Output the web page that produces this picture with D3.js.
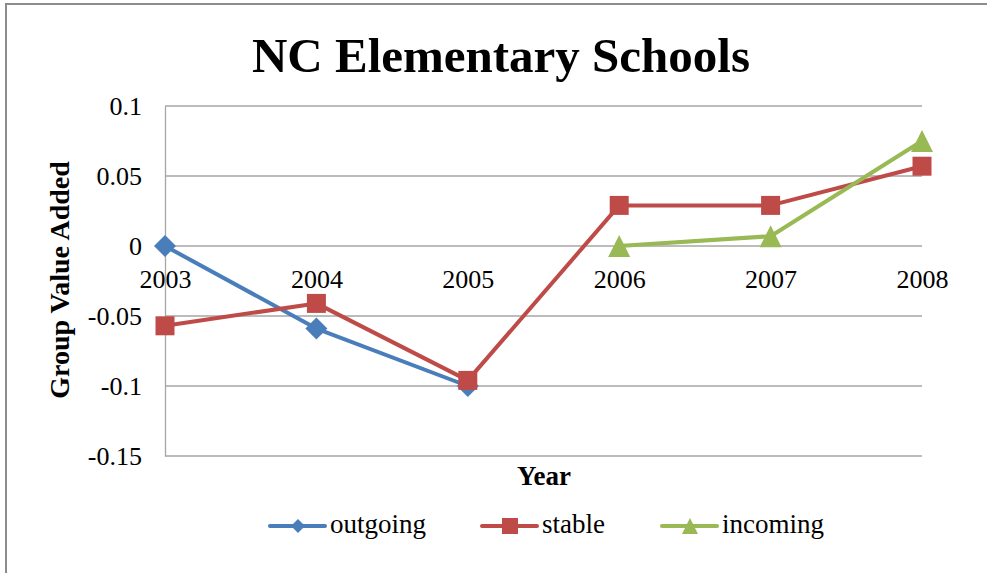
<!DOCTYPE html>
<html>
<head>
<meta charset="utf-8">
<script src="https://cdn.jsdelivr.net/npm/d3@7"></script>
<style>
  body { margin: 0; background: #fff; }
  text { font-family: "Liberation Serif", "Times New Roman", serif; }
</style>
</head>
<body>
<svg id="chart" width="987" height="573"></svg>
<script>
const years = ["2003", "2004", "2005", "2006", "2007", "2008"];
const outgoing = [0, -0.059, -0.1, null, null, null];
const stable = [-0.057, -0.041, -0.096, 0.029, 0.029, 0.057];
const incoming = [null, null, null, 0, 0.007, 0.075];
const yTicks = [0.1, 0.05, 0, -0.05, -0.1, -0.15];

// excel style marker shapes, r = half of the box
const diamond = {draw(ctx, size) {
  const r = Math.sqrt(size) / 2;
  ctx.moveTo(0, -r); ctx.lineTo(r, 0); ctx.lineTo(0, r); ctx.lineTo(-r, 0); ctx.closePath();
}};
const square = {draw(ctx, size) {
  const r = Math.sqrt(size) / 2;
  ctx.rect(-r, -r, 2 * r, 2 * r);
}};
const triangle = {draw(ctx, size) {
  const r = Math.sqrt(size) / 2;
  ctx.moveTo(0, -r); ctx.lineTo(r, r); ctx.lineTo(-r, r); ctx.closePath();
}};

const series = [
  {name: "outgoing", values: outgoing, color: "#4a7ebb", shape: diamond, size: 22, legendSize: 14},
  {name: "stable", values: stable, color: "#be4b48", shape: square, size: 19, legendSize: 16},
  {name: "incoming", values: incoming, color: "#98b954", shape: triangle, size: 22, legendSize: 16}
];

const margin = {top: 106, right: 65, bottom: 117, left: 165};
const width = 987;
const height = 573;

const svg = d3.select("#chart");

// outer frame
svg.append("line")
    .attr("x1", 5).attr("x2", width).attr("y1", 4).attr("y2", 4)
    .attr("stroke", "#8c8c8c").attr("stroke-width", 2);
svg.append("line")
    .attr("x1", 6).attr("x2", 6).attr("y1", 3).attr("y2", height)
    .attr("stroke", "#8c8c8c").attr("stroke-width", 2);

const x = d3.scalePoint()
    .domain(years)
    .range([margin.left, width - margin.right]);

const y = d3.scaleLinear()
    .domain([-0.15, 0.1])
    .range([height - margin.bottom, margin.top]);

// gridlines
svg.append("g")
    .selectAll("line")
    .data(yTicks)
    .join("line")
    .attr("x1", margin.left)
    .attr("x2", width - margin.right)
    .attr("y1", d => y(d))
    .attr("y2", d => y(d))
    .attr("stroke", "#a6a6a6")
    .attr("stroke-width", 1.3);

// y axis
const yAxis = d3.axisLeft(y)
    .tickValues(yTicks)
    .tickSize(0)
    .tickPadding(23)
    .tickFormat(d => d === 0 ? "0" : String(d));

const yAxisG = svg.append("g")
    .attr("transform", "translate(" + margin.left + ",0)")
    .call(yAxis);
yAxisG.select(".domain").attr("stroke", "#a6a6a6").attr("stroke-width", 1.3);
yAxisG.selectAll("text")
    .attr("font-size", 26)
    .attr("fill", "#000")
    .style("font-family", "Liberation Serif");

// x axis crossing at zero
const xAxis = d3.axisBottom(x)
    .tickSize(0)
    .tickPadding(24);

const xAxisG = svg.append("g")
    .attr("transform", "translate(0," + y(0) + ")")
    .call(xAxis);
xAxisG.select(".domain").remove();
xAxisG.selectAll("text")
    .attr("font-size", 26)
    .attr("fill", "#000")
    .style("font-family", "Liberation Serif");

// lines and markers
const line = d3.line()
    .defined(d => d.v !== null)
    .x(d => x(d.year))
    .y(d => y(d.v));

series.forEach(s => {
  const pts = years.map((yr, i) => ({year: yr, v: s.values[i]}));
  svg.append("path")
      .datum(pts)
      .attr("fill", "none")
      .attr("stroke", s.color)
      .attr("stroke-width", 4)
      .attr("stroke-linejoin", "round")
      .attr("d", line);

  svg.append("g")
      .selectAll("path")
      .data(pts.filter(d => d.v !== null))
      .join("path")
      .attr("transform", d => "translate(" + x(d.year) + "," + y(d.v) + ")")
      .attr("d", d3.symbol().type(s.shape).size(s.size * s.size))
      .attr("fill", s.color);
});

// title
svg.append("text")
    .attr("x", 501)
    .attr("y", 72)
    .attr("text-anchor", "middle")
    .attr("font-size", 49)
    .attr("font-weight", "bold")
    .text("NC Elementary Schools");

// axis titles
svg.append("text")
    .attr("transform", "translate(69,280) rotate(-90)")
    .attr("text-anchor", "middle")
    .attr("font-size", 28)
    .attr("font-weight", "bold")
    .text("Group Value Added");

svg.append("text")
    .attr("x", 544)
    .attr("y", 485)
    .attr("text-anchor", "middle")
    .attr("font-size", 27)
    .attr("font-weight", "bold")
    .text("Year");

// legend
const legendX = [270, 482, 662];
const legend = svg.append("g");
series.forEach((s, i) => {
  const g = legend.append("g").attr("transform", "translate(" + legendX[i] + ",526)");
  g.append("line")
      .attr("x1", 0).attr("x2", 55)
      .attr("stroke", s.color)
      .attr("stroke-width", 4)
      .attr("stroke-linecap", "round");
  g.append("path")
      .attr("transform", "translate(28,0)")
      .attr("d", d3.symbol().type(s.shape).size(s.legendSize * s.legendSize))
      .attr("fill", s.color);
  g.append("text")
      .attr("x", 60)
      .attr("y", 7)
      .attr("font-size", 27)
      .text(s.name);
});
</script>
</body>
</html>
